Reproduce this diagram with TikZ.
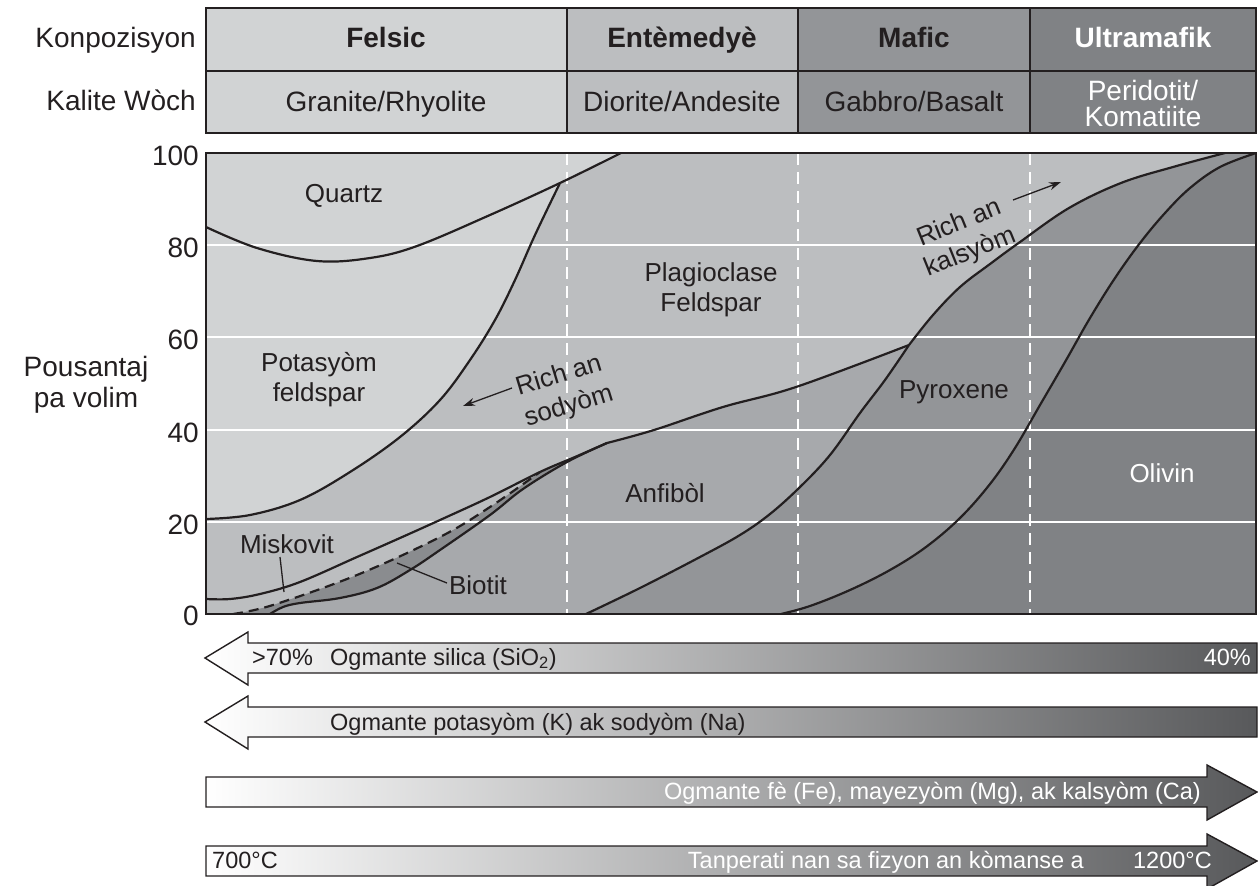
\documentclass[tikz,border=0pt]{standalone}
\usepackage{fontspec}
\setmainfont{Liberation Sans}
\usetikzlibrary{arrows.meta}
\definecolor{ink}{HTML}{231F20}
\definecolor{gA}{HTML}{D1D3D4}
\definecolor{gB}{HTML}{BCBEC0}
\definecolor{gC}{HTML}{A7A9AC}
\definecolor{gD}{HTML}{939598}
\definecolor{gE}{HTML}{808285}
\definecolor{gBio}{HTML}{8A8C8F}
\definecolor{gDark}{HTML}{58595B}
\tikzset{
  hdrtxt/.style={font=\fontsize{28bp}{26bp}\selectfont, text=ink, inner sep=0pt, align=center},
  lbl/.style={font=\fontsize{26bp}{30bp}\selectfont, text=ink, align=center, inner sep=0pt},
  bartxt/.style={font=\fontsize{23.5bp}{28bp}\selectfont, text=ink, inner sep=0pt},
  bnd/.style={draw=ink, line width=2.2bp, line join=round},
  gridw/.style={draw=white, line width=2.5bp},
  vdash/.style={draw=white, line width=2.5bp, dash pattern=on 12bp off 7bp},
  lead/.style={draw=ink, line width=1.3bp},
  ptr/.style={draw=ink, line width=1.3bp, -{Stealth[length=12bp,width=8bp]}},
  barshape/.style={draw=ink, line width=1.4bp, left color=white, right color=gDark},
  frame/.style={draw=ink, line width=2.5bp},
  sm/.style={smooth, tension=0.6},
}
\begin{document}
\begin{tikzpicture}[x=1bp,y=-1bp]
\useasboundingbox (0,0) rectangle (1258,886);

% ---------- header table ----------
\fill[gA] (206,8) rectangle (567,133);
\fill[gB] (567,8) rectangle (798,133);
\fill[gD] (798,8) rectangle (1030,133);
\fill[gE] (1030,8) rectangle (1256,133);
\draw[frame] (206,8) rectangle (1256,133);
\draw[frame] (206,71) -- (1256,71);
\draw[frame] (567,8) -- (567,133);
\draw[frame] (798,8) -- (798,133);
\draw[frame] (1030,8) -- (1030,133);

\node[hdrtxt, anchor=base east] (hk) at (196,47) {Konpozisyon};
\node[hdrtxt, anchor=base east] (hw) at (196,110) {Kalite Wòch};
\node[hdrtxt, anchor=base, font=\fontsize{28bp}{26bp}\selectfont\bfseries] (c1) at (386,47) {Felsic};
\node[hdrtxt, anchor=base, font=\fontsize{28bp}{26bp}\selectfont\bfseries] (c2) at (682,47) {Entèmedyè};
\node[hdrtxt, anchor=base, font=\fontsize{28bp}{26bp}\selectfont\bfseries] (c3) at (914,47) {Mafic};
\node[hdrtxt, anchor=base, font=\fontsize{28bp}{26bp}\selectfont\bfseries, text=white] (c4) at (1143,47) {Ultramafik};
\node[hdrtxt, anchor=base] (r1) at (386,111) {Granite/Rhyolite};
\node[hdrtxt, anchor=base] (r2) at (682,111) {Diorite/Andesite};
\node[hdrtxt, anchor=base] (r3) at (914,111) {Gabbro/Basalt};
\node[hdrtxt, text=white] (r4) at (1143,103) {Peridotit/\\Komatiite};

% ---------- plot fills ----------
\begin{scope}
\clip (206,153) rectangle (1256,614);
\fill[gE] (206,153) rectangle (1256,614);
% pyroxene
\fill[gD] (206,153) -- (206,614) -- plot[sm] coordinates {(781,614) (810,606) (850,590) (890,570) (926,547) (960,518) (990,484) (1015,448) (1040,405) (1065,362) (1090,318) (1115,278) (1140,243) (1165,213) (1190,188) (1220,167) (1256,153)} -- cycle;
% amphibole
\fill[gC] (206,153) -- (206,614) -- plot[sm] coordinates {(586,614) (640,588) (700,557) (740,535) (770,514) (800,487) (830,455) (860,413) (885,380) (909,345)} -- plot[sm] coordinates {(909,345) (933,315) (960,287) (990,264) (1020,242) (1069,208) (1121,183) (1173,167) (1225,153)} -- cycle;
% plagioclase + muscovite
\fill[gB] (206,153) -- (206,614) -- plot[sm] coordinates {(233,614) (273,605) (357,575) (440,537) (490,507) (540,472)} -- plot[sm] coordinates {(540,472) (575,457) (607,443)} -- plot[sm] coordinates {(607,443) (654,430) (723,407) (796,387) (909,345)} -- plot[sm] coordinates {(909,345) (933,315) (960,287) (990,264) (1020,242) (1069,208) (1121,183) (1173,167) (1225,153)} -- cycle;
% biotite
\fill[gBio] plot[sm] coordinates {(233,614) (273,605) (357,575) (440,537) (490,507) (540,472)} -- plot[sm] coordinates {(540,472) (575,457) (607,443)} -- plot[sm] coordinates {(607,443) (567,462) (523,489) (490,515) (440,550) (410,570) (377,588) (340,598) (300,603) (283,607) (270,614)} -- cycle;
% K-feldspar and quartz
\fill[gA] (206,153) -- (206,519) -- plot[sm] coordinates {(206,519) (250,515) (300,500) (350,472) (400,437) (440,400) (470,360) (495,320) (515,280) (535,235) (560,183)} -- (560,153) -- cycle;
\fill[gA] plot[sm] coordinates {(206,227) (257,248) (317,261) (370,258) (417,246) (490,215) (560,183) (621,153)} -- (206,153) -- cycle;
\end{scope}

% ---------- grid ----------
\foreach \yy in {245,337,430,522} \draw[gridw] (206,\yy) -- (1256,\yy);
\foreach \xx in {567,798,1030} \draw[vdash] (\xx,153) -- (\xx,614);

% ---------- boundaries ----------
\begin{scope}
\clip (206,153) rectangle (1256,614);
\draw[bnd] plot[sm] coordinates {(206,227) (257,248) (317,261) (370,258) (417,246) (490,215) (560,183) (621,153)};
\draw[bnd] plot[sm] coordinates {(206,519) (250,515) (300,500) (350,472) (400,437) (440,400) (470,360) (495,320) (515,280) (535,235) (560,183)};
\draw[bnd] plot[sm] coordinates {(206,599) (230,599) (260,594) (300,582) (357,557) (400,538) (440,520) (490,497) (540,472) (575,457) (607,443)};
\draw[bnd] plot[sm] coordinates {(607,443) (654,430) (723,407) (796,387) (909,345)};
\draw[bnd, dash pattern=on 10bp off 6bp] plot[sm] coordinates {(233,614) (273,605) (357,575) (440,537) (490,507) (540,472)};
\draw[bnd] plot[sm] coordinates {(270,614) (283,607) (300,603) (340,598) (377,588) (410,570) (440,550) (490,515) (523,489) (567,462) (607,443)};
\draw[bnd] plot[sm] coordinates {(586,614) (640,588) (700,557) (740,535) (770,514) (800,487) (830,455) (860,413) (885,380) (909,345)};
\draw[bnd] plot[sm] coordinates {(909,345) (933,315) (960,287) (990,264) (1020,242) (1069,208) (1121,183) (1173,167) (1225,153)};
\draw[bnd] plot[sm] coordinates {(781,614) (810,606) (850,590) (890,570) (926,547) (960,518) (990,484) (1015,448) (1040,405) (1065,362) (1090,318) (1115,278) (1140,243) (1165,213) (1190,188) (1220,167) (1256,153)};
\end{scope}
\draw[frame] (206,153) rectangle (1256,614);

% ---------- axis ----------
\node[hdrtxt, anchor=east] (y100) at (199,156) {100};
\node[hdrtxt, anchor=east] (y80) at (199,248) {80};
\node[hdrtxt, anchor=east] (y60) at (199,340) {60};
\node[hdrtxt, anchor=east] (y40) at (199,433) {40};
\node[hdrtxt, anchor=east] (y20) at (199,525) {20};
\node[hdrtxt, anchor=east] (y0) at (199,616) {0};
\node[hdrtxt, font=\fontsize{28bp}{31bp}\selectfont] (ylab) at (86,385) {Pousantaj\\pa volim};

% ---------- region labels ----------
\node[lbl, anchor=base] (lq) at (344,202) {Quartz};
\node[lbl] (lk) at (319,380) {Potasyòm\\feldspar};
\node[lbl] (lp) at (711,290) {Plagioclase\\Feldspar};
\node[lbl, anchor=base] (lpy) at (954,398) {Pyroxene};
\node[lbl, anchor=base] (la) at (665,502) {Anfibòl};
\node[lbl, anchor=base, text=white] (lo) at (1162,482) {Olivin};
\node[lbl, anchor=base] (lm) at (287,553) {Miskovit};
\node[lbl, anchor=base] (lb) at (478,594) {Biotit};
\node[lbl, rotate=17, anchor=base] (lna1) at (561,383) {Rich an};
\node[lbl, rotate=17, anchor=base] (lna2) at (571,413) {sodyòm};
\node[lbl, rotate=22, anchor=base] (lca1) at (962,230) {Rich an};
\node[lbl, rotate=22, anchor=base] (lca2) at (973,259) {kalsyòm};

\coordinate (naA) at (512,388);
\coordinate (naB) at (463,406);
\draw[ptr] (naA) -- (naB);
\coordinate (caA) at (1013,200);
\coordinate (caB) at (1061,182);
\draw[ptr] (caA) -- (caB);
\coordinate (mA) at (280,557);
\coordinate (mB) at (284,592);
\draw[lead] (mA) -- (mB);
\coordinate (bA) at (447,583);
\coordinate (bB) at (397,563);
\draw[lead] (bA) -- (bB);

% ---------- bottom arrows ----------
\path[barshape] (205,658) -- (248,632) -- (248,643) -- (1257,643) -- (1257,673) -- (248,673) -- (248,685) -- cycle;
\path[barshape] (205,722) -- (248,696) -- (248,707) -- (1257,707) -- (1257,737) -- (248,737) -- (248,749) -- cycle;
\path[barshape] (206,777) -- (1207,777) -- (1207,765) -- (1257,792) -- (1207,820) -- (1207,807) -- (206,807) -- cycle;
\path[barshape] (206,846) -- (1207,846) -- (1207,834) -- (1257,861) -- (1207,889) -- (1207,876) -- (206,876) -- cycle;

\node[bartxt, anchor=base west] (s1) at (252,665) {>70\%};
\node[bartxt, anchor=base west] (s2) at (330,665) {Ogmante silica (SiO\textsubscript{2})};
\node[bartxt, anchor=base east, text=white] (s3) at (1251,665) {40\%};
\node[bartxt, anchor=base west] (k1) at (330,730) {Ogmante potasyòm (K) ak sodyòm (Na)};
\node[bartxt, anchor=base east, text=white] (f1) at (1201,799) {Ogmante fè (Fe), mayezyòm (Mg), ak kalsyòm (Ca)};
\node[bartxt, anchor=base west] (t1) at (212,868) {700°C};
\node[bartxt, anchor=base east, text=white] (t2) at (1084,868) {Tanperati nan sa fizyon an kòmanse a};
\node[bartxt, anchor=base east, text=white] (t3) at (1212,868) {1200°C};
\end{tikzpicture}
\end{document}
